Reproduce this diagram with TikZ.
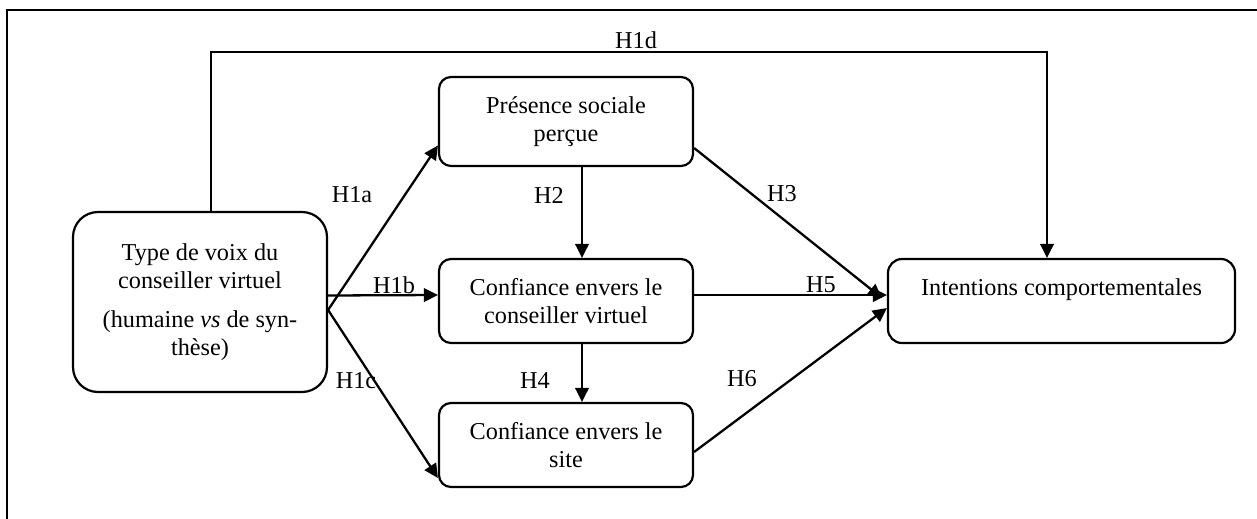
\documentclass[tikz,border=0pt]{standalone}
\usepackage{fontspec}
\setmainfont{Liberation Serif}
\usepackage{tikz}
\usetikzlibrary{arrows.meta}
\usetikzlibrary{calc}
\tikzstyle{boite}=[draw, line width=1.25pt, rounded corners=.24cm, align=center, inner sep=0pt, minimum width=5.08cm, minimum height=1.68cm]
\tikzstyle{fleche}=[line width=1.3pt, -{Triangle[length=.28cm,width=.27cm]}]
\newcommand{\hypo}[3]{
	\node (#1) at #2 {#3};
}

\begin{document}
\begin{tikzpicture}[font=\fontsize{13.8}{16}\selectfont]
	\useasboundingbox (0,0) rectangle (25.14,-10.36);
	\draw[line width=1pt] (.14,-10.6) -- (.14,-.2) -- (25.4,-.2);
%
	\node[boite, rounded corners=.5cm, minimum height=3.6cm] (type) at (4,-6.04)
		{Type de voix du\\conseiller virtuel\\[6pt](humaine \textit{vs} de syn-\\thèse)};
	\node[boite, minimum height=1.78cm] (pres) at (11.32,-2.43) {Présence sociale\\perçue};
	\node[boite] (conf) at (11.32,-6.02) {Confiance envers le\\conseiller virtuel};
	\node[boite] (site) at (11.32,-8.9) {Confiance envers le\\site};
	\node[boite, rounded corners=.28cm, minimum width=6.94cm] (intent) at (21.23,-6.02)
		{Intentions comportementales\\\mbox{}};
%
	\coordinate (haut) at (0,-1.04);
	\coordinate (depart) at ([xshift=.22cm]type.north);
	\coordinate (arrivee) at ([xshift=-.29cm]intent.north);
	\draw[fleche] (depart) -- (depart |- haut) -- (arrivee |- haut) -- (arrivee);
	\draw[fleche] ([yshift=-.16cm]type.east) -- ([yshift=-.48cm]pres.west);
	\draw[fleche] ([yshift=.13cm]type.east) -- ([yshift=.12cm]conf.west);
	\draw[fleche] ([yshift=-.16cm]type.east) -- ([yshift=-.66cm]site.west);
	\draw[fleche] ([xshift=.32cm]pres.south) -- ([xshift=.32cm]conf.north);
	\draw[fleche] ([xshift=.32cm]conf.south) -- ([xshift=.32cm]site.north);
	\draw[fleche] ([yshift=-.53cm]pres.east) -- ([xshift=-.1cm,yshift=.06cm]intent.west);
	\draw[fleche] ([yshift=.12cm]conf.east) -- ([yshift=.12cm]intent.west);
	\draw[fleche] ([yshift=-.14cm]site.east) -- ([yshift=-.14cm]intent.west);
%
	\hypo{h1d}{(12.72,-.8)}{H1d}
	\hypo{h1a}{(7.04,-3.9)}{H1a}
	\hypo{h2}{(10.98,-3.9)}{H2}
	\hypo{h3}{(15.64,-3.88)}{H3}
	\hypo{h1b}{(7.88,-5.7)}{H1b}
	\hypo{h5}{(16.42,-5.7)}{H5}
	\hypo{h1c}{(7.12,-7.62)}{H1c}
	\hypo{h4}{(10.7,-7.62)}{H4}
	\hypo{h6}{(14.84,-7.58)}{H6}
\end{tikzpicture}
\end{document}
